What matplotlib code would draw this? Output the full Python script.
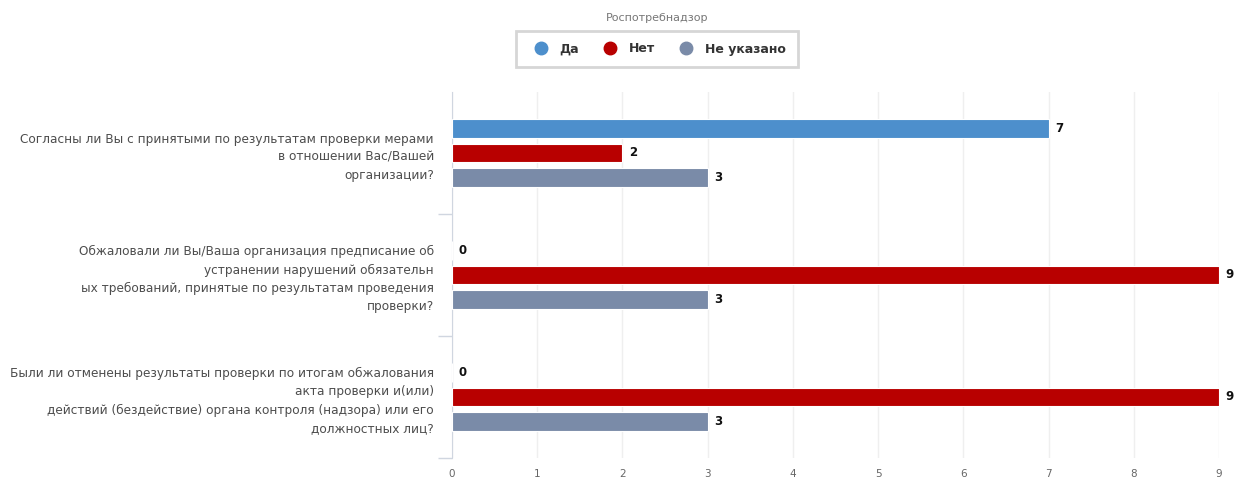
import matplotlib
matplotlib.use('Agg')
import matplotlib.pyplot as plt
from matplotlib.lines import Line2D
import numpy as np

plt.rcParams['font.family'] = ['DejaVu Sans']

# данные
questions = [
    'Согласны ли Вы с принятыми по результатам проверки мерами\nв отношении Вас/Вашей\nорганизации?',
    'Обжаловали ли Вы/Ваша организация предписание об\nустранении нарушений обязательн\nых требований, принятые по результатам проведения\nпроверки?',
    'Были ли отменены результаты проверки по итогам обжалования\nакта проверки и(или)\nдействий (бездействие) органа контроля (надзора) или его\nдолжностных лиц?',
]
series_names = ['Да', 'Нет', 'Не указано']
yes_vals = [7, 0, 0]
no_vals = [2, 9, 9]
na_vals = [3, 3, 3]
colors = ['#4d8fcc', '#b80000', '#7a8ba8']
legend_title = 'Роспотребнадзор'

fig = plt.figure(figsize=(12.38, 4.79), dpi=100)
ax = fig.add_axes([452 / 1238, 1 - 458 / 479, (1219 - 452) / 1238, (458 - 92) / 479])

y = np.arange(len(questions))
offsets = [-0.2, 0.0, 0.2]
for vals, off, col in zip([yes_vals, no_vals, na_vals], offsets, colors):
    bars = ax.barh(y + off, vals, height=0.155, color=col, edgecolor='white', linewidth=0.8, zorder=3)
    for b, v in zip(bars, vals):
        ax.text(v + 0.08, b.get_y() + b.get_height() / 2, str(v), va='center', ha='left',
                fontsize=8.5, fontweight='bold', color='#111111', clip_on=False)

ax.set_xlim(0, 9)
ax.set_ylim(len(questions) - 0.5, -0.5)
ax.set_xticks(range(10))
ax.set_yticks(y)
ax.set_yticklabels(questions, fontsize=8.7, color='#4d4d4d', ha='right', linespacing=1.5)
ax.set_yticks([0.5, 1.5, 2.5], minor=True)
ax.tick_params(axis='y', which='major', length=0, pad=13)
ax.tick_params(axis='y', which='minor', length=10, color='#d0d6e0', width=1)
ax.tick_params(axis='x', length=0, labelsize=7.5, labelcolor='#666666', pad=8)

ax.grid(axis='x', color='#efefef', linewidth=1, zorder=0)
for s in ['top', 'right', 'bottom']:
    ax.spines[s].set_visible(False)
ax.spines['left'].set_color('#d0d6e0')

handles = [Line2D([], [], marker='o', linestyle='none', markersize=9, markerfacecolor=c,
                  markeredgecolor=c) for c in colors]
leg = fig.legend(handles, series_names, loc='center', bbox_to_anchor=(657 / 1238, 1 - 49 / 479),
                 ncol=3, frameon=True, fancybox=False, handletextpad=0.5, columnspacing=1.5,
                 prop={'size': 9, 'weight': 'bold'}, borderpad=0.95)
leg.get_frame().set_edgecolor('#cccccc')
leg.get_frame().set_linewidth(2)
for t in leg.get_texts():
    t.set_color('#333333')
fig.text(657 / 1238, 1 - 18 / 479, legend_title, ha='center', va='center', fontsize=8, color='#777777')

fig.savefig('out.png', dpi=100)
